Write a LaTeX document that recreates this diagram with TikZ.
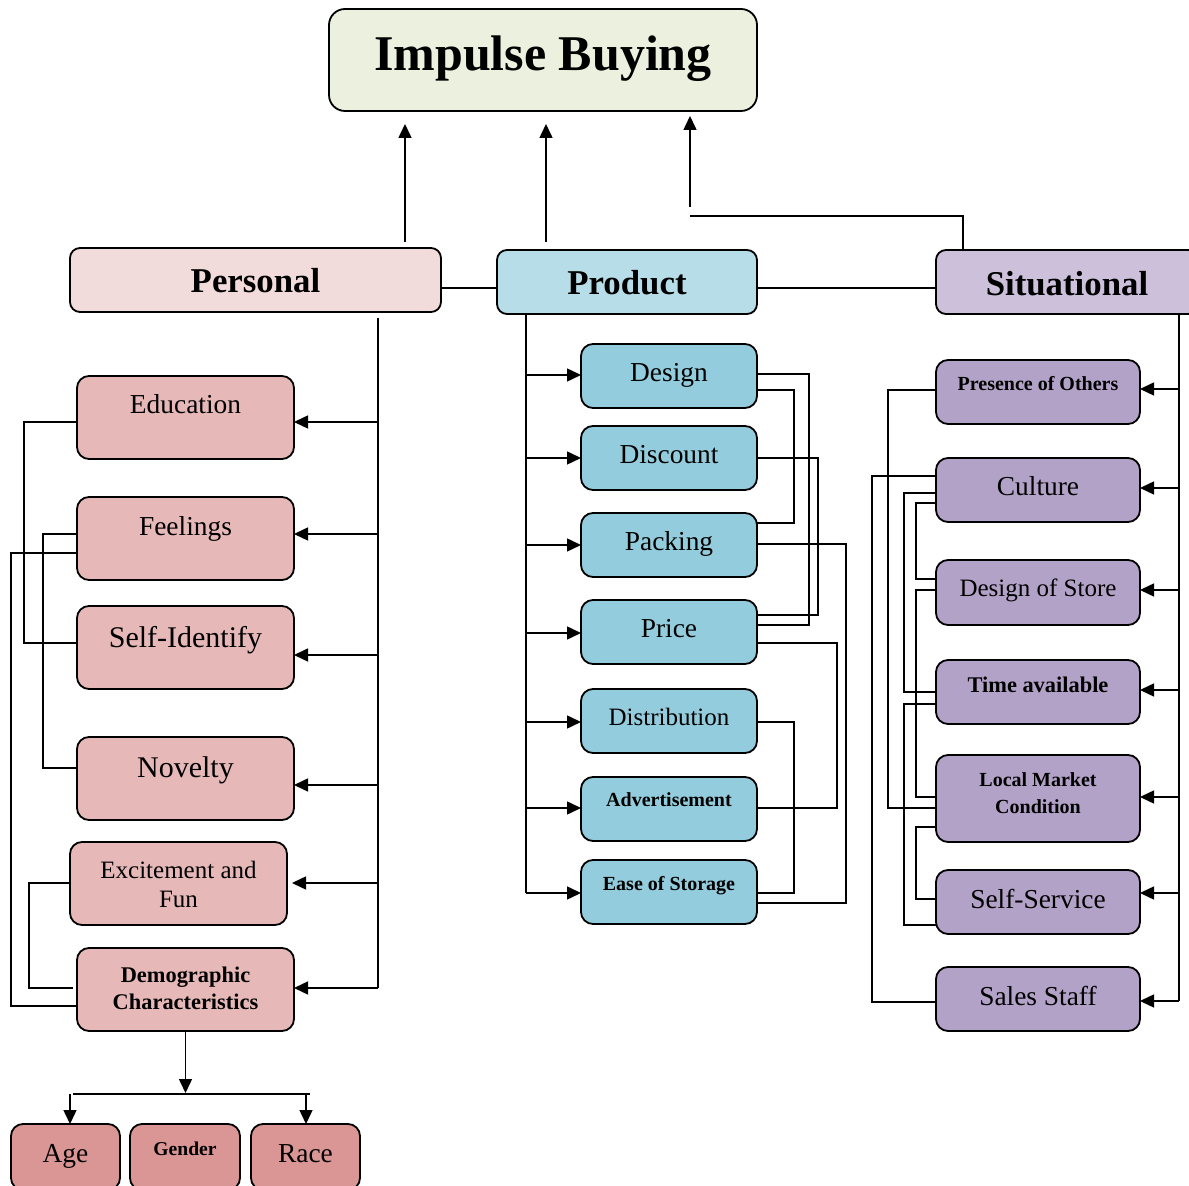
\documentclass[tikz,border=0pt]{standalone}
\usepackage{fontspec}
\setmainfont{Liberation Serif}
\usetikzlibrary{arrows.meta,calc}
\definecolor{imc}{HTML}{EBF1DE}
\definecolor{pec}{HTML}{F2DCDB}
\definecolor{pdc}{HTML}{B7DEE8}
\definecolor{sic}{HTML}{CCC0DA}
\definecolor{pchc}{HTML}{E6B9B8}
\definecolor{qchc}{HTML}{93CDDD}
\definecolor{schc}{HTML}{B3A2C7}
\definecolor{dchc}{HTML}{D99694}
\newcommand\twol[2]{\begin{tabular}[t]{@{}c@{}}#1\\#2\end{tabular}}
\newcommand\bx[9]{%
  \node[#2, minimum width={0.5pt*(#5-#3)}, minimum height={0.5pt*(#6-#4)}] (#1) at ({(#3+#5)/2},{(#4+#6)/2}) {};
  \node[#7, anchor=base, inner sep=0pt] (#1t) at ({(#3+#5)/2},#8) {#9};}
\tikzset{
  boxbase/.style={draw=black, line width=0.9pt, rounded corners=6pt, inner sep=0pt, outer sep=0pt},
  imbox/.style={boxbase, fill=imc, rounded corners=8pt},
  pebox/.style={boxbase, fill=pec, rounded corners=5pt},
  pdbox/.style={boxbase, fill=pdc, rounded corners=5pt},
  sibox/.style={boxbase, fill=sic, rounded corners=5pt},
  pch/.style={boxbase, fill=pchc},
  qch/.style={boxbase, fill=qchc},
  sch/.style={boxbase, fill=schc},
  dch/.style={boxbase, fill=dchc},
  fbig/.style={font=\fontsize{25}{30}\selectfont\bfseries},
  fhead/.style={font=\fontsize{17.4}{21}\selectfont\bfseries},
  fn/.style={font=\fontsize{13.7}{16}\selectfont},
  fs/.style={font=\fontsize{12.5}{14.5}\selectfont},
  fl/.style={font=\fontsize{15}{18}\selectfont},
  fbten/.style={font=\fontsize{10}{13.5}\selectfont\bfseries},
  fbelev/.style={font=\fontsize{11.2}{13.5}\selectfont\bfseries},
  fbnine/.style={font=\fontsize{9.8}{12}\selectfont\bfseries},
  conn/.style={draw=black, line width=0.75pt},
  arr/.style={conn, -{Triangle[length=7pt,width=6.5pt]}}
}
\begin{document}
\begin{tikzpicture}[x=0.5pt,y=-0.5pt]
\useasboundingbox (0,0) rectangle (1189,1186);
% main boxes
\bx{im}{imbox}{329}{9}{757}{111}{fbig}{71}{Impulse Buying}
\bx{pe}{pebox}{70}{248}{441}{312}{fhead}{293}{Personal}
\bx{pd}{pdbox}{497}{250}{757}{314}{fhead}{295}{Product}
\bx{si}{sibox}{936}{250}{1198}{314}{fhead}{296}{Situational}
% personal children
\bx{ed}{pch}{77}{376}{294}{459}{fn}{414}{Education}
\bx{fe}{pch}{77}{497}{294}{580}{fn}{536}{Feelings}
\bx{sf}{pch}{77}{606}{294}{689}{fl}{648}{Self-Identify}
\bx{no}{pch}{77}{737}{294}{820}{fl}{778}{Novelty}
\bx{ex}{pch}{70}{842}{287}{925}{fs}{878}{\twol{Excitement and}{Fun}}
\bx{dm}{pch}{77}{948}{294}{1031}{fbelev}{982}{\twol{Demographic}{Characteristics}}
\bx{ag}{dch}{11}{1124}{120}{1190}{fn}{1162}{Age}
\bx{ge}{dch}{130}{1124}{240}{1190}{fbnine}{1155}{Gender}
\bx{ra}{dch}{251}{1124}{360}{1190}{fn}{1162}{Race}
% product children
\bx{ds}{qch}{581}{344}{757}{408}{fn}{382}{Design}
\bx{dc}{qch}{581}{426}{757}{490}{fn}{464}{Discount}
\bx{pk}{qch}{581}{513}{757}{577}{fn}{551}{Packing}
\bx{pc}{qch}{581}{600}{757}{664}{fn}{638}{Price}
\bx{di}{qch}{581}{689}{757}{753}{fs}{726}{Distribution}
\bx{ad}{qch}{581}{777}{757}{841}{fbten}{807}{Advertisement}
\bx{es}{qch}{581}{860}{757}{924}{fbten}{891}{Ease of Storage}
% situational children
\bx{po}{sch}{936}{360}{1140}{424}{fbten}{391}{Presence of Others}
\bx{cu}{sch}{936}{458}{1140}{522}{fn}{496}{Culture}
\bx{dsx}{sch}{936}{560}{1140}{625}{fs}{597}{Design of Store}
\bx{ta}{sch}{936}{660}{1140}{724}{fbelev}{693}{Time available}
\bx{lm}{sch}{936}{755}{1140}{842}{fbten}{787}{\twol{Local Market}{Condition}}
\bx{sv}{sch}{936}{870}{1140}{934}{fn}{908}{Self-Service}
\bx{st}{sch}{936}{967}{1140}{1031}{fn}{1005}{Sales Staff}
% arrows to Impulse Buying
\coordinate (u1s) at (405,242); \coordinate (u1e) at (405,124);
\coordinate (u2s) at (546,242); \coordinate (u2e) at (546,124);
\coordinate (u3c) at (690,216); \coordinate (u3s) at (690,207); \coordinate (u3e) at (690,116);
\draw[arr] (u1s) -- (u1e);
\draw[arr] (u2s) -- (u2e);
\draw[conn] (si.north -| 963,0) |- (u3c);
\draw[arr] (u3s) -- (u3e);
% header links
\draw[conn] (pe.east |- 0,288) -- (pd.west |- 0,288);
\draw[conn] (pd.east |- 0,288) -- (si.west |- 0,288);
% personal trunk
\coordinate (ptr) at (378,318);
\coordinate (pend) at (378,988);
\draw[conn] (ptr) -- (pend);
\draw[arr] (ptr |- 0,422) -- (ed.east |- 0,422);
\draw[arr] (ptr |- 0,534) -- (fe.east |- 0,534);
\draw[arr] (ptr |- 0,655) -- (sf.east |- 0,655);
\draw[arr] (ptr |- 0,785) -- (no.east |- 0,785);
\coordinate (exa) at (292,883);
\draw[arr] (ptr |- exa) -- (exa);
\draw[arr] (pend) -- (dm.east |- pend);
% personal left links
\draw[conn] (ed.west |- 0,422) -- ++(-53,0) |- (sf.west |- 0,643);
\draw[conn] (fe.west |- 0,534) -- ++(-34,0) |- (no.west |- 0,768);
\draw[conn] (fe.west |- 0,553) -- ++(-66,0) |- (dm.west |- 0,1006);
\coordinate (dmx) at (73,988);
\draw[conn] (ex.west |- 0,883) -- ++(-41,0) |- (dmx);
% demographic split
\coordinate (jn) at (186,1094);
\coordinate (jl) at (73,1094);
\coordinate (jr) at (310,1094);
\draw[arr] (dm.south) -- (dm.south |- 0,1093);
\draw[conn] (jl) -- (jr);
\draw[arr] (70,1094) -- (ag.north -| 70,0);
\draw[arr] (306,1094) -- (ra.north -| 306,0);
% product trunk
\coordinate (qtr) at (pd.south -| 526,0);
\coordinate (qend) at (526,893);
\draw[conn] (qtr) -- (qend);
\draw[arr] (qtr |- 0,375) -- (ds.west |- 0,375);
\draw[arr] (qtr |- 0,458) -- (dc.west |- 0,458);
\draw[arr] (qtr |- 0,545) -- (pk.west |- 0,545);
\draw[arr] (qtr |- 0,633) -- (pc.west |- 0,633);
\draw[arr] (qtr |- 0,722) -- (di.west |- 0,722);
\draw[arr] (qtr |- 0,808) -- (ad.west |- 0,808);
\draw[arr] (qend) -- (es.west |- qend);
% product right links
\draw[conn] (ds.east |- 0,374) -- ++(52,0) |- (pc.east |- 0,625);
\draw[conn] (ds.east |- 0,390) -- ++(37,0) |- (pk.east |- 0,523);
\draw[conn] (dc.east |- 0,458) -- ++(61,0) |- (pc.east |- 0,615);
\draw[conn] (pk.east |- 0,544) -- ++(89,0) |- (es.east |- 0,903);
\draw[conn] (pc.east |- 0,643) -- ++(80,0) |- (ad.east |- 0,808);
\draw[conn] (di.east |- 0,722) -- ++(37,0) |- (es.east |- 0,893);
% situational trunk
\coordinate (str) at (si.south -| 1179,0);
\coordinate (send) at (1179,1001);
\draw[conn] (str) -- (send);
\draw[arr] (str |- 0,389) -- (po.east |- 0,389);
\draw[arr] (str |- 0,488) -- (cu.east |- 0,488);
\draw[arr] (str |- 0,590) -- (dsx.east |- 0,590);
\draw[arr] (str |- 0,690) -- (ta.east |- 0,690);
\draw[arr] (str |- 0,797) -- (lm.east |- 0,797);
\draw[arr] (str |- 0,893) -- (sv.east |- 0,893);
\draw[arr] (send) -- (st.east |- send);
% situational left links
\draw[conn] (po.west |- 0,390) -- ++(-48,0) |- (lm.west |- 0,808);
\draw[conn] (cu.west |- 0,476) -- ++(-64,0) |- (st.west |- 0,1002);
\draw[conn] (cu.west |- 0,493) -- ++(-32,0) |- (ta.west |- 0,692);
\draw[conn] (cu.west |- 0,503) -- ++(-20,0) |- (dsx.west |- 0,579);
\draw[conn] (dsx.west |- 0,590) -- ++(-20,0) |- (lm.west |- 0,797);
\draw[conn] (ta.west |- 0,704) -- ++(-32,0) |- (sv.west |- 0,925);
\draw[conn] (lm.west |- 0,827) -- ++(-20,0) |- (sv.west |- 0,899);
\end{tikzpicture}
\end{document}
